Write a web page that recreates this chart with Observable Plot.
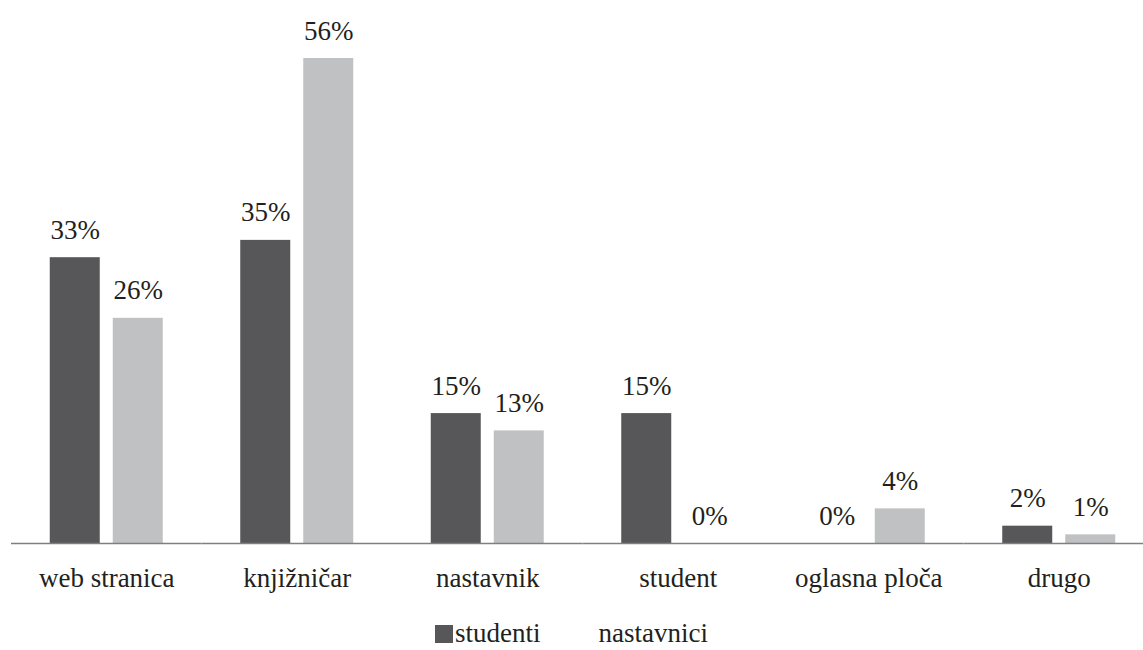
<!DOCTYPE html>
<html>
<head>
<meta charset="utf-8">
<script src="https://cdn.jsdelivr.net/npm/d3@7"></script>
<script src="https://cdn.jsdelivr.net/npm/@observablehq/plot@0.6"></script>
<style>
  html, body { margin: 0; padding: 0; background: #fff; }
  #chart { width: 1143px; height: 650px; position: relative; font-family: "Liberation Serif", "DejaVu Serif", "Times New Roman", Times, serif; color: #231f20; }
  #legend { position: absolute; left: 0; top: 618px; width: 1143px; display: flex; justify-content: center; align-items: center; font-size: 27px; }
  .item { display: flex; align-items: center; }
  .sw { width: 18px; height: 18px; display: inline-block; margin-right: 2px; }
</style>
</head>
<body>
<div id="chart"></div>
<script>
const categories = ["web stranica", "knjižničar", "nastavnik", "student", "oglasna ploča", "drugo"];
const seriesNames = ["studenti", "nastavnici"];
const studenti = [33, 35, 15, 15, 0, 2];
const nastavnici = [26, 56, 13, 0, 4, 1];
const colors = ["#575759", "#c0c1c3"];
const FONT = "'Liberation Serif', 'DejaVu Serif', 'Times New Roman', Times, serif";

const data = [];
categories.forEach((c, i) => {
  data.push({category: c, series: seriesNames[0], value: studenti[i]});
  data.push({category: c, series: seriesNames[1], value: nastavnici[i]});
});

const plot = Plot.plot({
  width: 1143,
  height: 605,
  marginTop: 58,
  marginBottom: 62,
  marginLeft: 11,
  marginRight: 0,
  style: {fontFamily: FONT, fontSize: "27px", color: "#231f20", background: "#fff"},
  fx: {domain: categories, range: [11, 1154], padding: 0, round: false},
  x: {domain: seriesNames, paddingInner: 13 / 63, paddingOuter: 0.615, round: false, axis: null},
  y: {domain: [0, 56], axis: null},
  color: {domain: seriesNames, range: colors},
  marks: [
    Plot.barY(data, {fx: "category", x: "series", y: "value", fill: "series"}),
    Plot.ruleY([0], {stroke: "#7f7f7f", strokeWidth: 1.5}),
    Plot.text(data, {fx: "category", x: "series", y: "value", text: d => d.value + "%", lineAnchor: "bottom", dy: -19, fontSize: 27, fontFamily: FONT, fill: "#231f20"}),
    Plot.axisFx({anchor: "bottom", tickSize: 0, tickPadding: 24, fontSize: 27, fontFamily: FONT, label: null, fill: "#231f20"})
  ]
});

const chart = document.getElementById("chart");
chart.appendChild(plot);

const legend = document.createElement("div");
legend.id = "legend";
const swColors = [colors[0], "#ffffff"];
seriesNames.forEach((s, i) => {
  const item = document.createElement("span");
  item.className = "item";
  if (i > 0) item.style.marginLeft = "38px";
  const sw = document.createElement("span");
  sw.className = "sw";
  sw.style.background = swColors[i];
  const t = document.createElement("span");
  t.textContent = s;
  item.appendChild(sw);
  item.appendChild(t);
  legend.appendChild(item);
});
chart.appendChild(legend);
</script>
</body>
</html>
